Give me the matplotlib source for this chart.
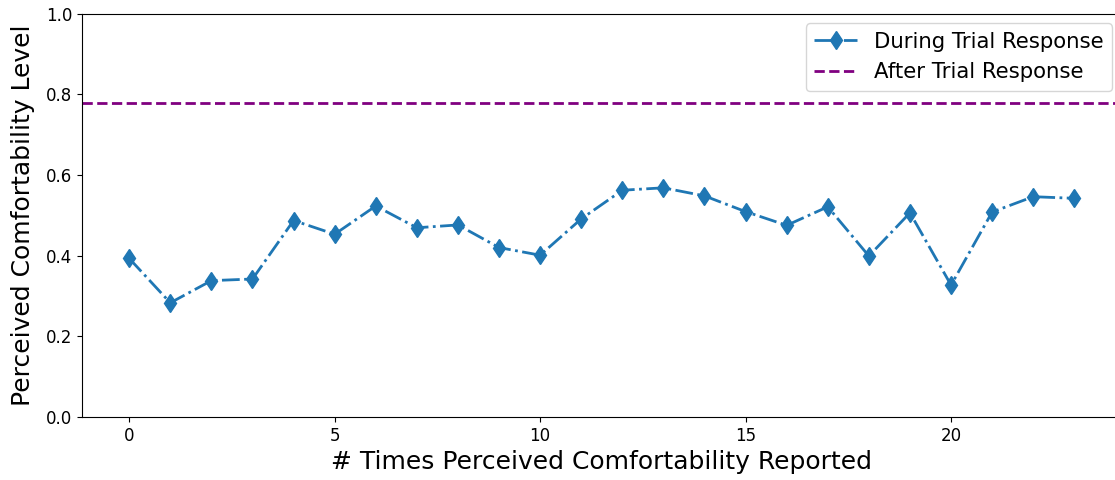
import numpy as np
import matplotlib
matplotlib.use("Agg")
import matplotlib.pyplot as plt

# values
report_idx = list(range(24))
during_trial = [0.393, 0.283, 0.338, 0.342, 0.487, 0.453, 0.523, 0.469,
                0.476, 0.420, 0.401, 0.491, 0.562, 0.568, 0.548, 0.509,
                0.475, 0.521, 0.399, 0.506, 0.327, 0.508, 0.546, 0.542]
after_trial = 0.778

fig = plt.figure(figsize=(11.15, 4.8), dpi=100)
ax = fig.add_axes([0.0735, 0.13125, 0.9324, 0.8406])

ax.plot(report_idx, during_trial, color="#1f77b4", ls="-.", lw=2,
        marker="d", ms=9.5, label="During Trial Response")
ax.axhline(after_trial, color="purple", ls="--", lw=2, label="After Trial Response")

ax.set_ylim(0, 1.0)
ax.set_xlabel("# Times Perceived Comfortability Reported", fontsize=18)
ax.set_ylabel("Perceived Comfortability Level", fontsize=18, labelpad=7.5)
ax.tick_params(labelsize=12)
ax.legend(loc="upper right", fontsize=15.3, bbox_to_anchor=(1.001, 1.002))

fig.savefig("out.png", dpi=100)
